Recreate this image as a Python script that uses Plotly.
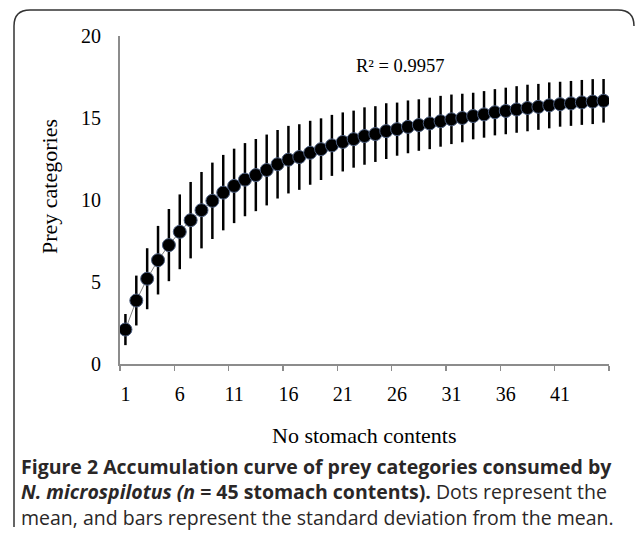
import plotly.graph_objects as go

# ---------------- data ----------------
stomach_n = [1, 2, 3, 4, 5, 6, 7, 8, 9, 10, 11, 12, 13, 14, 15, 16, 17, 18, 19, 20,
             21, 22, 23, 24, 25, 26, 27, 28, 29, 30, 31, 32, 33, 34, 35, 36, 37, 38,
             39, 40, 41, 42, 43, 44, 45]
prey_mean = [2.10, 3.87, 5.20, 6.33, 7.25, 8.06, 8.77, 9.38, 9.95, 10.45,
             10.86, 11.24, 11.52, 11.83, 12.18, 12.46, 12.62, 12.88, 13.10, 13.33,
             13.54, 13.71, 13.90, 14.02, 14.20, 14.32, 14.46, 14.57, 14.67, 14.80,
             14.92, 15.00, 15.12, 15.22, 15.35, 15.43, 15.52, 15.61, 15.68, 15.77,
             15.84, 15.89, 15.95, 16.00, 16.05]
prey_sd = [0.95, 1.52, 1.86, 2.09, 2.20, 2.28, 2.33, 2.33, 2.33, 2.30,
           2.27, 2.23, 2.20, 2.16, 2.09, 2.06, 2.00, 1.95, 1.88, 1.86,
           1.80, 1.74, 1.75, 1.70, 1.70, 1.62, 1.61, 1.57, 1.57, 1.55,
           1.51, 1.48, 1.42, 1.42, 1.41, 1.42, 1.42, 1.42, 1.40, 1.40,
           1.37, 1.37, 1.37, 1.37, 1.33]
x_tick_vals = [1, 6, 11, 16, 21, 26, 31, 36, 41]
x_tick_labels = ["1", "6", "11", "16", "21", "26", "31", "36", "41"]
x_boundaries = [0.5, 5.5, 10.5, 15.5, 20.5, 25.5, 30.5, 35.5, 40.5, 45.5]
y_tick_vals = [0, 5, 10, 15, 20]
r2_text = "R² = 0.9957"
caption_lines = [
    "<b>Figure 2 Accumulation curve of prey categories consumed by</b>",
    "<b><i>N. microspilotus (n</i> = 45 stomach contents).</b> Dots represent the",
    "mean, and bars represent the standard deviation from the mean.",
]

# ---------------- layout geometry (pixels) ----------------
W, H = 636, 538
L, R, T, B = 120, 27, 36, 174
PW, PH = W - L - R, H - T - B


def px(x):
    return (x - L) / PW


def py(y):
    return (H - B - y) / PH


serif = "Liberation Serif"
sans = "Open Sans"
axis_grey = "#8c8c8c"

fig = go.Figure()
fig.add_trace(go.Scatter(
    x=stomach_n, y=prey_mean,
    mode="lines+markers",
    line=dict(color="#7f7f7f", width=1),
    marker=dict(size=13, color="black", line=dict(color="#4d5f80", width=1)),
    error_y=dict(type="data", array=prey_sd, visible=True,
                 color="black", thickness=2.5, width=0),
    showlegend=False,
    hoverinfo="skip",
))

fig.update_xaxes(
    range=[0.5, 45.5],
    tickmode="array", tickvals=x_tick_vals, ticktext=x_tick_labels,
    ticks="", ticklabelstandoff=11,
    minor=dict(tickmode="array", tickvals=x_boundaries, ticks="outside",
               ticklen=5, tickwidth=1.5, tickcolor=axis_grey, showgrid=False),
    showline=True, linecolor=axis_grey, linewidth=2,
    showgrid=False, zeroline=False,
    tickfont=dict(family=serif, size=20, color="black"),
)
fig.update_yaxes(
    range=[0, 20],
    tickmode="array", tickvals=y_tick_vals,
    ticks="", ticklabelstandoff=13,
    showline=True, linecolor=axis_grey, linewidth=2,
    showgrid=False, zeroline=False,
    tickfont=dict(family=serif, size=20, color="black"),
)

annotations = [
    dict(text=r2_text, x=26.3, y=18.2, xref="x", yref="y", showarrow=False,
         xanchor="center", yanchor="middle",
         font=dict(family=serif, size=18.5, color="black")),
    dict(text="No stomach contents", x=px(364), y=py(435), xref="paper", yref="paper",
         xanchor="center", yanchor="middle",
         showarrow=False, font=dict(family=serif, size=22, color="black")),
    dict(text="Prey categories", x=px(49), y=py(187), xref="paper", yref="paper",
         xanchor="center", yanchor="middle",
         textangle=-90, showarrow=False, font=dict(family=serif, size=22, color="black")),
    dict(text="<br>".join(caption_lines),
         x=px(19), y=py(492), xref="paper", yref="paper", xanchor="left", yanchor="middle",
         align="left", showarrow=False,
         font=dict(family=sans, size=19.5, color="#2a2727")),
]

border_path = (
    f"M {px(14)},{py(527)} L {px(14)},{py(26)} "
    f"Q {px(14)},{py(10)} {px(30)},{py(10)} "
    f"L {px(618)},{py(10)} Q {px(634)},{py(10)} {px(634)},{py(26)}"
)
fig.add_shape(type="path", path=border_path, xref="paper", yref="paper",
              line=dict(color="#333333", width=1.5), layer="below")

fig.update_layout(
    width=W, height=H,
    margin=dict(l=L, r=R, t=T, b=B),
    paper_bgcolor="white", plot_bgcolor="white",
    annotations=annotations,
    hovermode=False,
)

fig.write_html(
    "out.html",
    config={"displayModeBar": False, "staticPlot": True},
    post_script="document.body.style.margin='0px';document.body.style.overflow='hidden';",
)
